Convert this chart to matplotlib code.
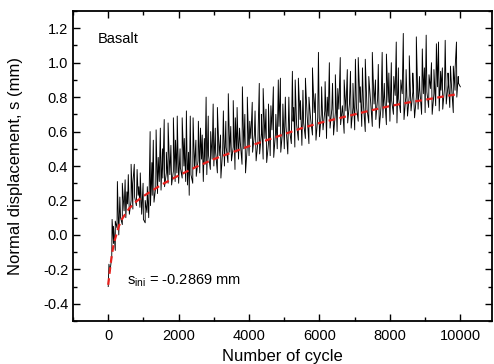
import matplotlib
matplotlib.use("Agg")
import matplotlib.pyplot as plt
from matplotlib.ticker import MultipleLocator
import numpy as np

plt.rcParams['font.family'] = ['Liberation Sans', 'DejaVu Sans']

# measured displacement, sampled every 50 cycles (0 .. 10000)
step = 50
disp = [
    -0.30, -0.21, -0.13, -0.05, -0.09, 0.04, 0.00, 0.10, 0.06, 0.14,
    0.10, 0.18, 0.12, 0.20, 0.15, 0.22, 0.17, 0.23, 0.16, 0.12,
    0.09, 0.07, 0.13, 0.10, 0.17, 0.23, 0.19, 0.28, 0.24, 0.31,
    0.26, 0.33, 0.28, 0.36, 0.30, 0.35, 0.29, 0.37, 0.31, 0.36,
    0.30, 0.39, 0.33, 0.40, 0.31, 0.29, 0.23, 0.35, 0.30, 0.39,
    0.34, 0.43, 0.36, 0.44, 0.31, 0.41, 0.35, 0.46, 0.38, 0.44,
    0.40, 0.48, 0.36, 0.46, 0.33, 0.49, 0.40, 0.51, 0.42, 0.48,
    0.43, 0.51, 0.38, 0.48, 0.44, 0.54, 0.41, 0.50, 0.36, 0.52,
    0.46, 0.56, 0.48, 0.58, 0.43, 0.54, 0.47, 0.59, 0.44, 0.56,
    0.42, 0.53, 0.46, 0.61, 0.45, 0.59, 0.50, 0.63, 0.48, 0.60,
    0.50, 0.63, 0.47, 0.61, 0.53, 0.66, 0.51, 0.64, 0.55, 0.67,
    0.52, 0.65, 0.56, 0.69, 0.53, 0.67, 0.58, 0.71, 0.55, 0.68,
    0.57, 0.70, 0.61, 0.72, 0.56, 0.69, 0.62, 0.73, 0.58, 0.71,
    0.60, 0.73, 0.64, 0.75, 0.59, 0.72, 0.65, 0.76, 0.62, 0.74,
    0.61, 0.74, 0.66, 0.77, 0.63, 0.75, 0.60, 0.73, 0.65, 0.78,
    0.63, 0.76, 0.67, 0.79, 0.62, 0.75, 0.68, 0.80, 0.64, 0.77,
    0.66, 0.78, 0.70, 0.81, 0.65, 0.79, 0.71, 0.82, 0.67, 0.80,
    0.69, 0.81, 0.72, 0.83, 0.68, 0.80, 0.73, 0.84, 0.70, 0.82,
    0.71, 0.83, 0.74, 0.85, 0.70, 0.82, 0.75, 0.86, 0.72, 0.84,
    0.73, 0.85, 0.76, 0.87, 0.74, 0.86, 0.71, 0.84, 0.80, 0.88,
    0.86,
]

# tall spikes: (cycle, peak displacement)
spike_cycle = [
    20, 110, 200, 260, 400, 480, 570, 650, 740, 820, 910, 990, 1110,
    1190, 1280, 1360, 1480, 1590, 1700, 1850, 1960, 2100, 2220, 2330,
    2410, 2560, 2670, 2780, 2840, 2980, 3100, 3270, 3410, 3550, 3660,
    3810, 3950, 4090, 4290, 4400, 4550, 4690, 4830, 4890, 5030, 5230,
    5310, 5400, 5600, 5800, 5970, 6160, 6280, 6450, 6590, 6790, 6880,
    7020, 7100, 7220, 7300, 7500, 7670, 7780, 7900, 8040, 8180, 8240,
    8380, 8550, 8750, 8920, 9030, 9180, 9320, 9380, 9490, 9570, 9720,
    9800, 9890, 9940,
]
spike_peak = [
    -0.17, 0.09, 0.08, 0.31, 0.30, 0.32, 0.35, 0.41, 0.41, 0.38, 0.36, 0.30, 0.28,
    0.60, 0.55, 0.61, 0.62, 0.67, 0.65, 0.68, 0.69, 0.68, 0.72, 0.69,
    0.68, 0.66, 0.58, 0.80, 0.69, 0.76, 0.74, 0.72, 0.82, 0.78, 0.74,
    0.86, 0.80, 0.77, 0.88, 0.85, 0.76, 0.86, 0.90, 0.91, 0.80, 0.95,
    0.90, 0.91, 0.91, 0.97, 1.06, 0.89, 1.00, 0.93, 1.03, 0.96, 0.95,
    1.02, 1.03, 0.97, 1.02, 1.06, 0.99, 1.06, 1.05, 1.00, 1.12, 0.97,
    1.17, 1.04, 1.15, 1.08, 1.16, 1.00, 1.11, 1.12, 0.97, 1.13, 0.98,
    0.98, 1.12, 0.92,
]

# smaller spikes between the tall ones
small_cycle = [
    150, 330, 530, 700, 870, 1050, 1240, 1420, 1540, 1650, 1780, 1910,
    2040, 2160, 2280, 2490, 2620, 2730, 2910, 3040, 3190, 3340, 3480,
    3610, 3730, 3880, 4020, 4170, 4350, 4480, 4620, 4760, 4960, 5130,
    5270, 5460, 5530, 5700, 5880, 6060, 6220, 6370, 6520, 6700, 6950,
    7160, 7400, 7590, 7840, 7970, 8110, 8310, 8460, 8650, 8840, 8980,
    9110, 9250, 9440, 9650, 9850,
]
small_peak = [
    0.05, 0.22, 0.25, 0.30, 0.28, 0.20, 0.42, 0.45, 0.50, 0.48, 0.52, 0.55,
    0.50, 0.56, 0.48, 0.55, 0.62, 0.56, 0.60, 0.62, 0.58, 0.66, 0.63,
    0.68, 0.62, 0.70, 0.66, 0.72, 0.70, 0.73, 0.75, 0.70, 0.76, 0.80,
    0.74, 0.78, 0.84, 0.80, 0.82, 0.86, 0.80, 0.88, 0.85, 0.90, 0.88,
    0.86, 0.92, 0.90, 0.88, 0.94, 0.92, 0.90, 0.96, 0.94, 0.92, 0.97,
    0.93, 0.96, 0.95, 0.94, 0.96,
]

# fitted curve
fit_x = [0, 50, 100, 150, 200, 300, 400, 600, 800, 1000, 1500, 2000, 2500,
         3000, 3500, 4000, 4500, 5000, 5500, 6000, 6500, 7000, 7500, 8000,
         8500, 9000, 9500, 9850]
fit_y = [-0.29, -0.20, -0.12, -0.06, -0.02, 0.05, 0.095, 0.155, 0.195, 0.225,
         0.29, 0.345, 0.395, 0.44, 0.478, 0.515, 0.55, 0.585, 0.62, 0.65,
         0.675, 0.70, 0.725, 0.748, 0.768, 0.785, 0.803, 0.815]

cycles = np.arange(len(disp)) * step
x_all = np.concatenate([cycles, spike_cycle, small_cycle])
y_all = np.concatenate([disp, spike_peak, small_peak])
order = np.argsort(x_all, kind='stable')

fig = plt.figure(figsize=(4.94, 3.64), dpi=100)
ax = fig.add_axes([0.1478, 0.1181, 0.8482, 0.8516])

ax.plot(x_all[order], y_all[order], color='black', linewidth=0.65)
ax.plot(fit_x, fit_y, color='#e8201c', linewidth=1.6, linestyle=(0, (3, 2)))

ax.set_xlim(-1000, 10900)
ax.set_ylim(-0.5, 1.3)
ax.xaxis.set_major_locator(MultipleLocator(2000))
ax.xaxis.set_minor_locator(MultipleLocator(1000))
ax.yaxis.set_minor_locator(MultipleLocator(0.1))
yticks = np.arange(-0.4, 1.21, 0.2)
ax.set_yticks(yticks)
ax.set_yticklabels([f"{v:.1f}" for v in yticks])

ax.tick_params(which='both', direction='in', top=True, right=True, width=1.0,
               labelsize=10.5)
ax.tick_params(which='major', length=5)
ax.tick_params(axis='x', which='major', pad=6)
ax.tick_params(which='minor', length=3)
for s in ax.spines.values():
    s.set_linewidth(1.3)

ax.set_xlabel("Number of cycle", fontsize=12, labelpad=4)
ax.set_ylabel("Normal displacement, s (mm)", fontsize=12, labelpad=14)

ax.text(-310, 1.14, "Basalt", fontsize=10.5, va='center', ha='left')
ax.text(540, -0.265, r"s$_{\mathregular{ini}}$ = -0.2869 mm", fontsize=10.5,
        va='center', ha='left')

fig.savefig("out.png", dpi=100)
